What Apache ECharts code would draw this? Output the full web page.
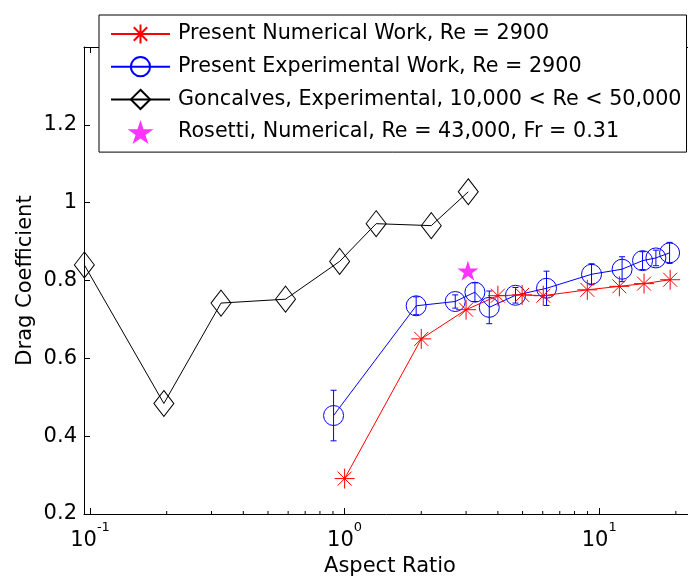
<!DOCTYPE html>
<html><head><meta charset="utf-8">
<script src="https://cdn.jsdelivr.net/npm/echarts@6/dist/echarts.min.js"></script>
<style>html,body{margin:0;padding:0;background:#fff;overflow:hidden}#c{width:688px;height:579px}</style>
</head><body><div id="c"></div>
<script>
// ---- data ----
const seriesNames = [
  'Present Numerical Work, Re = 2900',
  'Present Experimental Work, Re = 2900',
  'Goncalves, Experimental, 10,000 < Re < 50,000',
  'Rosetti, Numerical, Re = 43,000, Fr = 0.31'
];
const numX = [1.0, 2.0, 3.0, 4.0, 4.98, 6.03, 8.98, 12.0, 15.0, 19.0];
const numY = [0.291, 0.650, 0.725, 0.761, 0.763, 0.761, 0.776, 0.785, 0.792, 0.802];
const expX = [0.905, 1.91, 2.72, 3.25, 3.70, 4.69, 6.21, 9.33, 12.3, 14.8, 16.7, 18.9];
const expY = [0.453, 0.735, 0.746, 0.770, 0.731, 0.762, 0.780, 0.816, 0.829, 0.851, 0.858, 0.871];
const expErr = [0.065, 0.023, 0.017, 0.024, 0.042, 0.020, 0.044, 0.027, 0.032, 0.023, 0.020, 0.027];
const gonX = [0.095, 0.195, 0.327, 0.586, 0.956, 1.33, 2.19, 3.06];
const gonY = [0.840, 0.484, 0.742, 0.752, 0.849, 0.946, 0.941, 1.028];
const rosX = [3.05];
const rosY = [0.825];
const xMin = 0.0947, xMax = 24;
const yMin = 0.2, yMax = 1.4, yStep = 0.2;
const minorTicks = [0.2, 0.3, 0.4, 0.5, 0.6, 0.7, 0.8, 0.9, 2, 3, 4, 5, 6, 7, 8, 9, 20];
const xTitle = 'Aspect Ratio';
const yTitle = 'Drag Coefficient';

// ---- chart ----
const FONT = 'DejaVu Sans';
const zip = (a, b) => a.map((v, i) => [v, b[i]]);
const ASTERISK = 'path://M10,0L10,20M0,10L20,10M3,3L17,17M3,17L17,3';
const STAR = 'path://M50,0L61.8,35.4L100,35.4L69.1,57.3L80.9,92.7L50,70.8L19.1,92.7L30.9,57.3L0,35.4L38.2,35.4Z';
const lineCol = { color: '#000', width: 1 };

const chart = echarts.init(document.getElementById('c'), null, { renderer: 'canvas' });
chart.setOption({
  animation: false,
  backgroundColor: '#fff',
  grid: { left: 84, width: 612, top: 47, height: 467, show: false,
          containLabel: false, outerBoundsMode: 'none' },
  legend: {
    data: seriesNames,
    orient: 'vertical',
    left: 99, top: 15,
    padding: [7, 5, 8, 11],
    itemGap: 8.7,
    itemWidth: 59, itemHeight: 24,
    backgroundColor: '#fff',
    borderColor: '#000', borderWidth: 1,
    textStyle: { fontFamily: FONT, fontSize: 20.7, color: '#000', lineHeight: 24, padding: [0, 0, 0, 3] },
    z: 10
  },
  xAxis: [{
    type: 'log', logBase: 10, min: xMin, max: xMax, position: 'bottom',
    name: xTitle, nameLocation: 'middle', nameGap: 42, nameMoveOverlap: false,
    nameTextStyle: { fontFamily: FONT, fontSize: 21, color: '#000' },
    axisLine: { show: true, lineStyle: lineCol },
    axisTick: { show: true, inside: true, length: 6, lineStyle: { color: '#000' } },
    splitLine: { show: false },
    axisLabel: {
      margin: 7, showMinLabel: false, showMaxLabel: false,
      formatter: function (v) {
        const e = Math.log10(v), r = Math.round(e);
        if (Math.abs(e - r) > 1e-6) return '';
        return '{b|10}{s|' + (r < 0 ? '-' : '') + Math.abs(r) + '}';
      },
      rich: {
        b: { fontFamily: FONT, fontSize: 21, color: '#000', lineHeight: 30, verticalAlign: 'bottom' },
        s: { fontFamily: FONT, fontSize: 13, color: '#000', lineHeight: 13, verticalAlign: 'top' }
      }
    }
  }, {
    type: 'log', logBase: 10, min: xMin, max: xMax, position: 'top',
    axisLine: { show: true, lineStyle: lineCol },
    axisTick: { show: true, inside: true, length: 6, lineStyle: { color: '#000' } },
    axisLabel: { show: false },
    splitLine: { show: false }
  }],
  yAxis: {
    type: 'value', min: yMin, max: yMax, interval: yStep,
    name: yTitle, nameLocation: 'middle', nameGap: 48, nameMoveOverlap: false,
    nameTextStyle: { fontFamily: FONT, fontSize: 21, color: '#000' },
    axisLine: { show: true, lineStyle: lineCol },
    axisTick: { show: true, inside: true, length: 6, lineStyle: { color: '#000' } },
    splitLine: { show: false },
    axisLabel: {
      margin: 7, showMaxLabel: false, fontFamily: FONT, fontSize: 21, color: '#000',
      formatter: v => (Math.abs(v - Math.round(v)) < 1e-9 ? String(Math.round(v)) : String(+v.toFixed(1)))
    }
  },
  series: [
    {
      type: 'custom', silent: true, z: 1, clip: false,
      data: minorTicks.map(v => [v, yMin]), encode: { x: 0, y: 1 },
      renderItem: function (params, api) {
        const v = api.value(0);
        const b = api.coord([v, yMin]);
        const t = api.coord([v, yMax]);
        const st = { stroke: '#000', lineWidth: 1 };
        return { type: 'group', children: [
          { type: 'line', shape: { x1: b[0], y1: b[1], x2: b[0], y2: b[1] - 3 }, style: st },
          { type: 'line', shape: { x1: t[0], y1: t[1], x2: t[0], y2: t[1] + 3 }, style: st }
        ]};
      }
    },
    {
      name: seriesNames[2], type: 'line', clip: false,
      data: zip(gonX, gonY),
      symbol: 'diamond', symbolSize: [20, 26], showSymbol: true,
      lineStyle: { color: '#000', width: 1 },
      itemStyle: { color: 'rgba(0,0,0,0)', borderColor: '#000', borderWidth: 1 },
      z: 3
    },
    {
      name: seriesNames[1], type: 'line', clip: false,
      data: zip(expX, expY),
      symbol: 'circle', symbolSize: 20, showSymbol: true,
      lineStyle: { color: '#0000FF', width: 1 },
      itemStyle: { color: 'rgba(0,0,0,0)', borderColor: '#0000FF', borderWidth: 1 },
      z: 3
    },
    {
      type: 'custom', silent: true, z: 3, clip: false,
      data: expX.map((x, i) => [x, expY[i] - expErr[i], expY[i] + expErr[i]]),
      encode: { x: 0, y: [1, 2] },
      renderItem: function (params, api) {
        const x = api.value(0);
        const lo = api.coord([x, api.value(1)]);
        const hi = api.coord([x, api.value(2)]);
        const st = { stroke: '#0000FF', lineWidth: 1 };
        const c = 3;
        return { type: 'group', children: [
          { type: 'line', shape: { x1: lo[0], y1: lo[1], x2: hi[0], y2: hi[1] }, style: st },
          { type: 'line', shape: { x1: lo[0] - c, y1: lo[1], x2: lo[0] + c, y2: lo[1] }, style: st },
          { type: 'line', shape: { x1: hi[0] - c, y1: hi[1], x2: hi[0] + c, y2: hi[1] }, style: st }
        ]};
      }
    },
    {
      name: seriesNames[0], type: 'line', clip: false,
      data: zip(numX, numY),
      symbol: ASTERISK, symbolSize: 20, showSymbol: true,
      lineStyle: { color: '#FF0000', width: 1 },
      itemStyle: { color: 'rgba(0,0,0,0)', borderColor: '#FF0000', borderWidth: 1 },
      z: 4
    },
    {
      name: seriesNames[3], type: 'scatter', clip: false,
      data: zip(rosX, rosY),
      symbol: STAR, symbolSize: [21, 20],
      itemStyle: { color: '#FF00FF' },
      z: 4
    }
  ]
});
</script></body></html>
